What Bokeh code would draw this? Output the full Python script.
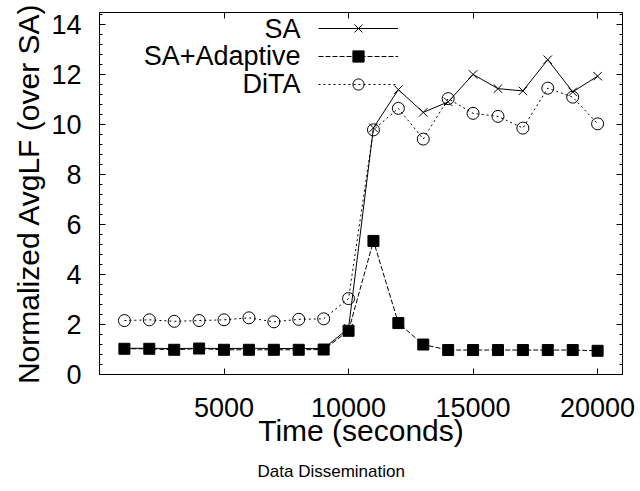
from bokeh.plotting import figure
from bokeh.models import (Range1d, LinearAxis, FixedTicker, Legend, LegendItem,
                          Label, Title, CustomLabelingPolicy)
from bokeh.embed import file_html
from bokeh.resources import INLINE

time_s = [1000, 2000, 3000, 4000, 5000, 6000, 7000, 8000, 9000, 10000,
          11000, 12000, 13000, 14000, 15000, 16000, 17000, 18000, 19000, 20000]
sa = [1.05, 1.05, 1.04, 1.05, 1.04, 1.05, 1.04, 1.04, 1.04, 1.85,
      9.88, 11.41, 10.50, 10.92, 12.02, 11.45, 11.36, 12.61, 11.32, 11.95]
sa_adaptive = [1.03, 1.03, 0.99, 1.04, 0.99, 0.99, 0.99, 0.99, 1.00, 1.75,
               5.35, 2.06, 1.20, 0.98, 0.98, 0.98, 0.98, 0.98, 0.98, 0.95]
dita = [2.16, 2.19, 2.13, 2.16, 2.19, 2.27, 2.11, 2.21, 2.23, 3.04,
        9.80, 10.66, 9.43, 11.05, 10.46, 10.34, 9.87, 11.47, 11.11, 10.04]

series_names = ["SA", "SA+Adaptive", "DiTA"]
x_ticks = [5000, 10000, 15000, 20000]
y_ticks = [0, 2, 4, 6, 8, 10, 12, 14]
y_minor = [round(0.4 * i, 1) for i in range(0, 37)]
caption = "Data Dissemination"

FONT = "Liberation Sans"

p = figure(width=636, height=491, output_backend="svg", toolbar_location=None,
           x_range=Range1d(0, 21000), y_range=Range1d(0, 14.5),
           min_border_left=99, min_border_right=10, min_border_top=12,
           min_border_bottom=113)
p.background_fill_color = "white"
p.border_fill_color = "white"
p.grid.visible = False
p.outline_line_color = "black"

xa = p.xaxis[0]
xa.ticker = FixedTicker(ticks=x_ticks, minor_ticks=[])
xa.major_tick_in = 6
xa.major_tick_out = 0
xa.minor_tick_in = 0
xa.minor_tick_out = 0
xa.major_tick_line_color = "black"
xa.major_label_text_font = FONT
xa.major_label_text_font_size = "27px"
xa.major_label_text_color = "black"
xa.major_label_standoff = 23
xa.axis_label = "Time (seconds)"
xa.axis_label_text_font = FONT
xa.axis_label_text_font_size = "30px"
xa.axis_label_text_font_style = "normal"
xa.axis_label_text_color = "black"
xa.axis_label_standoff = -6
xa.axis_line_color = "black"

ya = p.yaxis[0]
ya.ticker = FixedTicker(ticks=y_ticks, minor_ticks=y_minor)
ya.major_tick_in = 6
ya.major_tick_out = 0
ya.minor_tick_in = 3
ya.minor_tick_out = 0
ya.major_tick_line_color = "black"
ya.minor_tick_line_color = "black"
ya.major_label_text_font = FONT
ya.major_label_text_font_size = "27px"
ya.major_label_text_color = "black"
ya.major_label_standoff = 18
ya.axis_label = "Normalized AvgLF (over SA)"
ya.axis_label_text_font = FONT
ya.axis_label_text_font_size = "30px"
ya.axis_label_text_font_style = "normal"
ya.axis_label_text_color = "black"
ya.axis_label_standoff = 3
ya.axis_line_color = "black"

NO_LABELS_JS = "for (let i = 0; i < indices.size; i++) { indices.unset(i) } return indices"

top = LinearAxis(ticker=FixedTicker(ticks=x_ticks, minor_ticks=[]),
                 major_tick_in=6, major_tick_out=0, minor_tick_in=0, minor_tick_out=0,
                 major_tick_line_color="black", axis_line_color="black",
                 major_label_policy=CustomLabelingPolicy(code=NO_LABELS_JS),
                 major_label_standoff=0, major_label_text_font_size="10px")
right = LinearAxis(ticker=FixedTicker(ticks=y_ticks, minor_ticks=y_minor),
                   major_tick_in=6, major_tick_out=0, minor_tick_in=3, minor_tick_out=0,
                   major_tick_line_color="black", minor_tick_line_color="black",
                   axis_line_color="black",
                   major_label_policy=CustomLabelingPolicy(code=NO_LABELS_JS),
                   major_label_standoff=0, major_label_text_font_size="10px")
p.add_layout(top, "above")
p.add_layout(right, "right")

l1 = p.line(time_s, sa, line_color="black", line_width=1)
m1 = p.scatter(time_s, sa, marker="x", size=12, line_color="black", line_width=1)
l2 = p.line(time_s, sa_adaptive, line_color="black", line_width=1, line_dash="5 2")
m2 = p.scatter(time_s, sa_adaptive, marker="square", size=11, line_color="black",
               fill_color="black")
l3 = p.line(time_s, dita, line_color="black", line_width=1, line_dash="2 3")
m3 = p.scatter(time_s, dita, marker="circle", size=12, line_color="black",
               fill_color=None, line_width=1)

legend = Legend(items=[LegendItem(label="", renderers=[l1, m1]),
                       LegendItem(label="", renderers=[l2, m2]),
                       LegendItem(label="", renderers=[l3, m3])],
                location=(219, 276), padding=0, margin=0, spacing=0,
                glyph_width=80, glyph_height=28, label_height=20,
                label_text_font_size="1px",
                border_line_color=None, background_fill_alpha=0)
p.add_layout(legend, "center")

for name, ly in zip(series_names, [346, 318.3, 290.7]):
    p.add_layout(Label(x=201, y=ly, x_units="screen", y_units="screen", text=name,
                       text_align="right", text_baseline="middle",
                       text_font=FONT, text_font_size="27px", text_color="black"))

p.add_layout(Title(text=caption, align="left", offset=158,
                   text_font=FONT, text_font_size="17px", text_font_style="normal",
                   text_color="black", standoff=21), "below")

open("out.html", "w").write(file_html(p, INLINE))
